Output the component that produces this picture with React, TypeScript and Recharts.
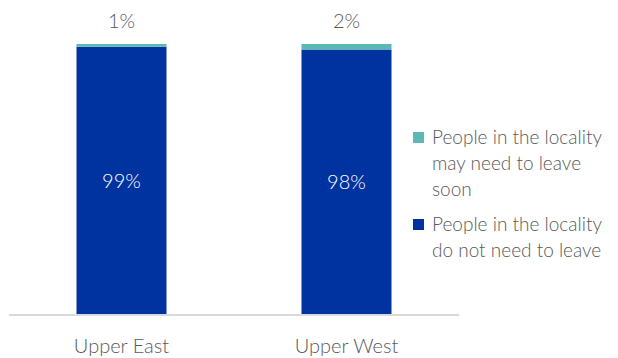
import { BarChart, Bar, XAxis, YAxis, LabelList } from "recharts"

const regions = ["Upper East", "Upper West"]
const doNotNeedToLeave = [99, 98]
const mayNeedToLeave = [1, 2]

const data = regions.map((region, i) => ({
 region,
 stay: doNotNeedToLeave[i],
 leave: mayNeedToLeave[i],
}))

const font = "Lato, 'Open Sans', sans-serif"
const textColor = "#595959"

const legendItems = [
 { color: "#5BB8B4", lines: ["People in the locality", "may need to leave", "soon"] },
 { color: "#0033A0", lines: ["People in the locality", "do not need to leave"] },
]

function ChartLegend() {
 return (
  <div
   style={{
    position: "absolute",
    left: 413,
    top: 124,
    width: 205,
    fontFamily: font,
    fontSize: 19,
    fontWeight: 300,
    color: textColor,
    lineHeight: "26px",
   }}
  >
   {legendItems.map((item, i) => (
    <div key={i} style={{ display: "flex", marginBottom: i === 0 ? 9 : 0 }}>
     <span
      style={{
       width: 11,
       height: 11,
       background: item.color,
       marginTop: 8,
       marginRight: 8,
       flexShrink: 0,
      }}
     />
     <div>
      {item.lines.map((l) => (
       <div key={l}>{l}</div>
      ))}
     </div>
    </div>
   ))}
  </div>
 )
}

export default function App() {
 return (
  <div style={{ position: "absolute", left: 0, top: 0, width: 618, height: 358, background: "#fff" }}>
   <BarChart
    width={618}
    height={358}
    data={data}
    barCategoryGap="30%"
    margin={{ top: 44, right: 159, left: 9, bottom: 0 }}
   >
    <XAxis
     dataKey="region"
     axisLine={{ stroke: "#D9D9D9", strokeWidth: 2 }}
     tickLine={false}
     height={43}
     tick={{ fill: textColor, fontSize: 20, fontFamily: font, fontWeight: 300 }}
     tickMargin={18}
    />
    <YAxis hide domain={[0, 100]} />
    <Bar dataKey="stay" stackId="a" fill="#0033A0" isAnimationActive={false}>
     <LabelList
      dataKey="stay"
      position="center"
      formatter={(v: number) => `${v}%`}
      style={{ fill: "#FFFFFF", fontSize: 20, fontFamily: font, fontWeight: 300 }}
     />
    </Bar>
    <Bar dataKey="leave" stackId="a" fill="#5BB8B4" isAnimationActive={false}>
     <LabelList
      dataKey="leave"
      position="top"
      offset={16}
      formatter={(v: number) => `${v}%`}
      style={{ fill: textColor, fontSize: 20, fontFamily: font, fontWeight: 300 }}
     />
    </Bar>
   </BarChart>
   <ChartLegend />
  </div>
 )
}
